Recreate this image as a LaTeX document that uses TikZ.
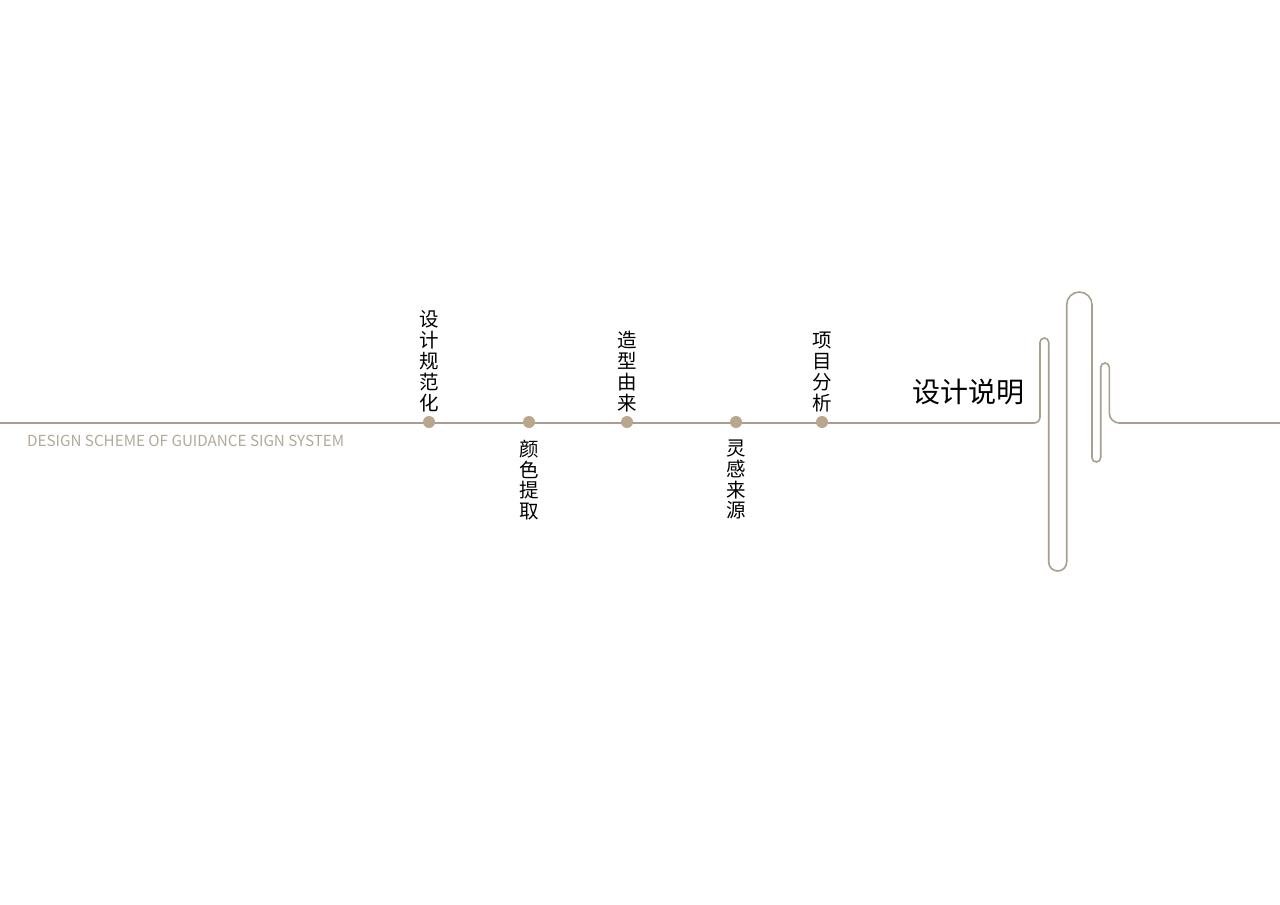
\documentclass[tikz,border=0pt]{standalone}
\usepackage{fontspec}
\newfontfamily\cjk{Noto Sans CJK SC}
\usetikzlibrary{positioning}
\definecolor{tan}{HTML}{A99F8E}
\definecolor{dotc}{HTML}{B9A78D}
\definecolor{engc}{HTML}{B3A99B}
\tikzset{
  dot/.style={circle,fill=dotc,inner sep=0pt,minimum size=12pt},
  vlab/.style={font=\cjk\fontsize{19.5}{20.8}\selectfont,align=center,inner sep=0pt}
}

\begin{document}
\begin{tikzpicture}[x=1pt,y=-1pt]
			\useasboundingbox[fill=white] (0,0) rectangle (1280,905);
			\coordinate (start) at (0,423); \coordinate (kink) at (1034,423);
			\draw[tan,line width=1.6pt] (start) -- (kink) arc (90:0:6) -- (1040,342.35) arc (180:360:4.35)
				-- (1048.7,562) arc (180:0:9) -- (1066.7,304.65) arc (180:360:12.65)
				-- (1092,457.65) arc (180:0:4.35) -- (1100.7,367.3) arc (180:360:4.3)
				-- (1109.3,413) arc (180:90:10) -- (1280,423);
			
			\node[dot] (d1) at (429,422) {}; \node[vlab,above=4pt of d1] (l1) {设\\计\\规\\范\\化};
			\node[dot] (d2) at (529,422) {}; \node[vlab,below=11.5pt of d2] (l2) {颜\\色\\提\\取};
			\node[dot] (d3) at (627,422) {}; \node[vlab,above=4pt of d3] (l3) {造\\型\\由\\来};
			\node[dot] (d4) at (736,422) {}; \node[vlab,below=11.5pt of d4] (l4) {灵\\感\\来\\源};
			\node[dot] (d5) at (822,422) {}; \node[vlab,above=4pt of d5] (l5) {项\\目\\分\\析};
			
			\node[font=\cjk\fontsize{28}{30}\selectfont,inner sep=0pt] (title) at (968,392) {设计说明};
			\node[font=\cjk\fontsize{15.2}{16}\selectfont,text=engc,anchor=base west,inner sep=0pt] (sub) at (27,446.5) {DESIGN SCHEME OF GUIDANCE SIGN SYSTEM};
			\end{tikzpicture}
\end{document}
